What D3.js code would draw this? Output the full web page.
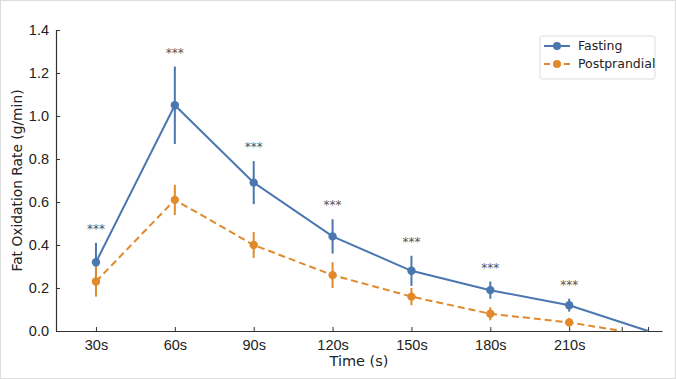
<!DOCTYPE html>
<html>
<head>
<meta charset="utf-8">
<script src="https://cdn.jsdelivr.net/npm/d3@7"></script>
<style>
  body { margin: 0; background: #fff; }
  svg { display: block; font-family: "DejaVu Sans", sans-serif; }
</style>
</head>
<body>
<div id="chart"></div>
<script>
// time points (seconds); the last point of each series has no marker
const fastingTimes = [30, 60, 90, 120, 150, 180, 210, 240];
const fastingValues = [0.32, 1.05, 0.69, 0.44, 0.28, 0.19, 0.12, 0];
const fastingErrors = [0.09, 0.18, 0.10, 0.08, 0.07, 0.04, 0.03, null];

const postTimes = [30, 60, 90, 120, 150, 180, 210, 230];
const postValues = [0.23, 0.61, 0.40, 0.26, 0.16, 0.08, 0.04, 0];
const postErrors = [0.07, 0.07, 0.06, 0.06, 0.04, 0.03, 0.02, null];

const tickTimes = [30, 60, 90, 120, 150, 180, 210, 230, 240];
const tickLabels = ["30s", "60s", "90s", "120s", "150s", "180s", "210s", "", ""];
const yTicks = [0, 0.2, 0.4, 0.6, 0.8, 1.0, 1.2, 1.4];
const sigLabel = "***";

const width = 676, height = 379;
const margin = { top: 30, right: 14, bottom: 48, left: 56 };
const blue = "#4a77b0", orange = "#e08a2b";

const svg = d3.select("#chart").append("svg")
  .attr("width", width)
  .attr("height", height);

svg.append("rect")
  .attr("x", 0.5).attr("y", 0.5)
  .attr("width", width - 1).attr("height", height - 1)
  .attr("fill", "#fff")
  .attr("stroke", "#ddd");

const x = d3.scaleLinear()
  .domain([14.8, 245.3])
  .range([margin.left, width - margin.right]);

const y = d3.scaleLinear()
  .domain([0, 1.4])
  .range([height - margin.bottom, margin.top]);

// axes
const xAxis = d3.axisBottom(x)
  .tickValues(tickTimes)
  .tickFormat((d, i) => tickLabels[i])
  .tickSizeInner(-4).tickSizeOuter(0).tickPadding(9);

const yAxis = d3.axisLeft(y)
  .tickValues(yTicks)
  .tickFormat(d3.format(".1f"))
  .tickSizeInner(-4).tickSizeOuter(0).tickPadding(7);

const gx = svg.append("g")
  .attr("transform", `translate(0, ${height - margin.bottom})`)
  .call(xAxis);

const gy = svg.append("g")
  .attr("transform", `translate(${margin.left}, 0)`)
  .call(yAxis);

[gx, gy].forEach(g => {
  g.select(".domain").attr("stroke", "#333").attr("stroke-width", 1.2);
  g.selectAll(".tick line").attr("stroke", "#333").attr("stroke-width", 1);
  g.selectAll(".tick text").attr("fill", "#222").style("font-size", "14.5px");
});

svg.append("text")
  .attr("x", (margin.left + width - margin.right) / 2)
  .attr("y", 366)
  .attr("text-anchor", "middle")
  .attr("fill", "#222")
  .style("font-size", "14.5px")
  .text("Time (s)");

svg.append("text")
  .attr("transform", `translate(22, ${(margin.top + height - margin.bottom) / 2}) rotate(-90)`)
  .attr("text-anchor", "middle")
  .attr("fill", "#222")
  .style("font-size", "13.8px")
  .text("Fat Oxidation Rate (g/min)");

function drawSeries(times, values, errors, color, dash) {
  const pts = times.map((t, i) => ({ t, v: values[i], e: errors[i] }));
  const line = d3.line().x(d => x(d.t)).y(d => y(d.v));

  svg.append("path")
    .datum(pts)
    .attr("d", line)
    .attr("fill", "none")
    .attr("stroke", color)
    .attr("stroke-width", 2)
    .attr("stroke-dasharray", dash);

  const marked = pts.filter(d => d.e !== null);

  svg.selectAll(null)
    .data(marked)
    .enter()
    .append("line")
    .attr("x1", d => x(d.t)).attr("x2", d => x(d.t))
    .attr("y1", d => y(d.v - d.e)).attr("y2", d => y(d.v + d.e))
    .attr("stroke", color)
    .attr("stroke-width", 2);

  svg.selectAll(null)
    .data(marked)
    .enter()
    .append("circle")
    .attr("cx", d => x(d.t))
    .attr("cy", d => y(d.v))
    .attr("r", 4.2)
    .attr("fill", color);

  return marked;
}

const fastPts = drawSeries(fastingTimes, fastingValues, fastingErrors, blue, null);
drawSeries(postTimes, postValues, postErrors, orange, "7,4");

// significance marks above fasting error bars
svg.selectAll(".sig")
  .data(fastPts)
  .enter()
  .append("text")
  .attr("class", "sig")
  .attr("x", d => x(d.t))
  .attr("y", d => y(d.v + d.e) - 10)
  .attr("text-anchor", "middle")
  .attr("fill", "#555")
  .style("font-size", "12px")
  .text(sigLabel);

// legend
const legend = svg.append("g").attr("transform", "translate(540, 36)");
legend.append("rect")
  .attr("width", 115).attr("height", 43)
  .attr("rx", 2)
  .attr("fill", "#fff")
  .attr("stroke", "#ddd");

const legendItems = [
  { name: "Fasting", color: blue, dash: null },
  { name: "Postprandial", color: orange, dash: "6,4" }
];

legendItems.forEach((item, i) => {
  const g = legend.append("g").attr("transform", `translate(0, ${10 + i * 18})`);
  g.append("line")
    .attr("x1", 4).attr("x2", 30)
    .attr("stroke", item.color)
    .attr("stroke-width", 2)
    .attr("stroke-dasharray", item.dash);
  g.append("circle").attr("cx", 17).attr("r", 4).attr("fill", item.color);
  g.append("text")
    .attr("x", 38).attr("dy", "0.35em")
    .attr("fill", "#222")
    .style("font-size", "12.5px")
    .text(item.name);
});
</script>
</body>
</html>
